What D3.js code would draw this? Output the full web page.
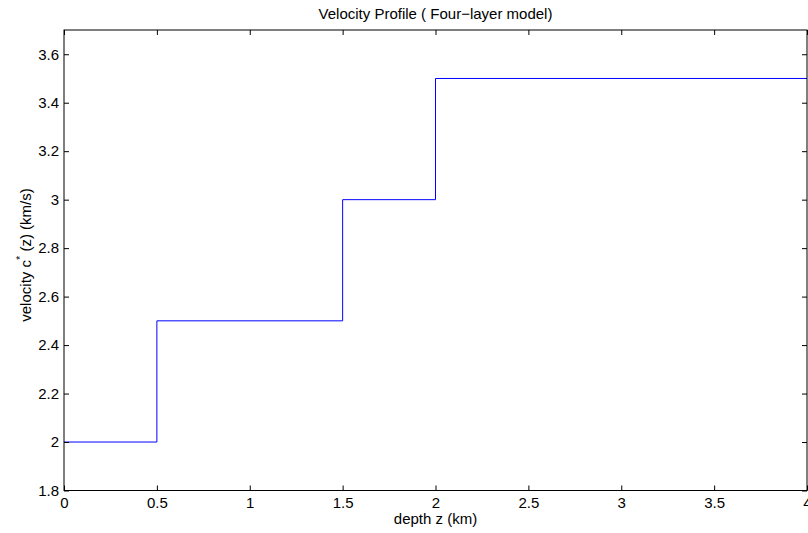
<!DOCTYPE html>
<html>
<head>
<script src="https://d3js.org/d3.v7.min.js" charset="utf-8"></script>
<style>
    body { margin: 0; background: #fff; overflow: hidden; }
    svg { display: block; }
    svg text { font-family: "Liberation Sans", Arial, sans-serif; font-size: 15px; fill: #000; }
</style>
</head>
<body>
<script>
    // layer model: depth breakpoints and velocity per layer
    var depth = [0, 0.5, 0.5, 1.5, 1.5, 2, 2, 4];
    var velocity = [2, 2, 2.5, 2.5, 3, 3, 3.5, 3.5];
    var xTicks = [0, 0.5, 1, 1.5, 2, 2.5, 3, 3.5, 4];
    var yTicks = [1.8, 2, 2.2, 2.4, 2.6, 2.8, 3, 3.2, 3.4, 3.6];

    var w = 808, h = 533;
    var mLeft = 64, mRight = 807, mTop = 30, mBottom = 490.5;

    var svg = d3.select("body").append("svg")
        .attr("width", w)
        .attr("height", h);

    var x = d3.scaleLinear().domain([0, 4]).range([mLeft, mRight]);
    var y = d3.scaleLinear().domain([1.8, 3.7]).range([mBottom, mTop]);

    // the step line
    var line = d3.line()
        .x(function(d) { return x(d[0]); })
        .y(function(d) { return y(d[1]); });

    svg.append("path")
        .datum(d3.zip(depth, velocity))
        .attr("d", line)
        .attr("fill", "none")
        .attr("stroke", "#0000ff")
        .attr("stroke-width", 1);

    // axes with inward ticks, matlab style
    function styleAxis(g) {
        g.select(".domain").remove();
        g.selectAll(".tick line").attr("stroke", "#000");
        g.selectAll(".tick text").style("font-size", "15px");
    }

    svg.append("g")
        .attr("transform", "translate(0," + mBottom + ")")
        .call(d3.axisBottom(x).tickValues(xTicks).tickSizeInner(-5).tickSizeOuter(0)
              .tickPadding(7).tickFormat(d3.format("")))
        .call(styleAxis);

    svg.append("g")
        .attr("transform", "translate(0," + mTop + ")")
        .call(d3.axisTop(x).tickValues(xTicks).tickSizeInner(-5).tickSizeOuter(0)
              .tickFormat(""))
        .call(styleAxis);

    svg.append("g")
        .attr("transform", "translate(" + mLeft + ",0)")
        .call(d3.axisLeft(y).tickValues(yTicks).tickSizeInner(-5).tickSizeOuter(0)
              .tickPadding(5).tickFormat(d3.format("")))
        .call(styleAxis);

    svg.append("g")
        .attr("transform", "translate(" + mRight + ",0)")
        .call(d3.axisRight(y).tickValues(yTicks).tickSizeInner(-5).tickSizeOuter(0)
              .tickFormat(""))
        .call(styleAxis);

    // box
    svg.append("rect")
        .attr("x", mLeft).attr("y", mTop)
        .attr("width", mRight - mLeft).attr("height", mBottom - mTop)
        .attr("fill", "none")
        .attr("stroke", "#000")
        .attr("stroke-width", 1);

    svg.append("text")
        .attr("x", (mLeft + mRight) / 2)
        .attr("y", 18.5)
        .attr("text-anchor", "middle")
        .text("Velocity Profile ( Four\u2212layer model)");

    svg.append("text")
        .attr("x", (mLeft + mRight) / 2)
        .attr("y", 524)
        .attr("text-anchor", "middle")
        .text("depth z (km)");

    var yl = svg.append("text")
        .attr("transform", "translate(31,255) rotate(-90)")
        .attr("text-anchor", "middle");
    yl.append("tspan").text("velocity c");
    yl.append("tspan").attr("dy", -7).style("font-size", "11px").text("*");
    yl.append("tspan").attr("dy", 7).text(" (z) (km/s)");
</script>
</body>
</html>
